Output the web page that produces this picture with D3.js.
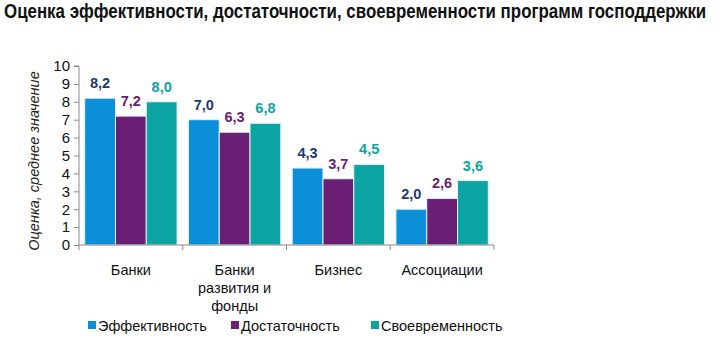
<!DOCTYPE html>
<html><head><meta charset="utf-8">
<script src="https://cdn.jsdelivr.net/npm/d3@7"></script>
<style>body{margin:0;background:#fff;} svg{display:block;font-family:"Liberation Sans",Arial,sans-serif;}</style>
</head><body>
<svg id="c" width="720" height="346"></svg>
<script>
const categories = [["Банки"], ["Банки", "развития и", "фонды"], ["Бизнес"], ["Ассоциации"]];
const seriesNames = ["Эффективность", "Достаточность", "Своевременность"];
const effectiveness = [8.2, 7.0, 4.3, 2.0];
const sufficiency = [7.2, 6.3, 3.7, 2.6];
const timeliness = [8.0, 6.8, 4.5, 3.6];
const yTicks = [0,1,2,3,4,5,6,7,8,9,10];
const colors = ["#0b8fd8", "#6a1e74", "#0ca4a2"];
const labelColors = ["#1b3a78", "#6a1e74", "#0ca4a2"];
const series = [effectiveness, sufficiency, timeliness];

const svg = d3.select("#c");
svg.append("text").attr("transform", "translate(4,18) scale(1,1.15)").attr("font-size", 16.9).attr("font-weight", "bold")
  .attr("font-family", "'Liberation Sans', Arial, sans-serif")
  .attr("fill", "#111").text("Оценка эффективности, достаточности, своевременности программ господдержки");

const x0 = d3.scaleBand().domain(d3.range(categories.length)).range([79, 494]).paddingInner(0.11).paddingOuter(0.055);
const x1 = d3.scaleBand().domain(d3.range(series.length)).range([0, x0.bandwidth()]);
const y = d3.scaleLinear().domain([0, 10]).range([245, 66]);

const g = svg.append("g");
// y axis
const ya = g.append("g").attr("transform", "translate(79,0)")
  .call(d3.axisLeft(y).tickValues(yTicks).tickSize(5).tickFormat(d3.format("d")));
ya.select(".domain").attr("stroke", "#8a8a8a").attr("d", `M-5,${y(10)}H0V${y(0)}`);
ya.selectAll(".tick line").attr("stroke", "#8a8a8a");
ya.selectAll(".tick text").attr("font-size", 15).attr("fill", "#111").attr("x", -9)
  .attr("font-family", "Liberation Sans, Arial, sans-serif");

svg.append("text").attr("transform", "translate(39,161) rotate(-90)").attr("text-anchor", "middle")
  .attr("font-size", 14.5).attr("font-style", "italic").attr("fill", "#222").text("Оценка, среднее значение");

// bars
series.forEach((s, si) => {
  g.selectAll(null).data(s).enter().append("rect")
    .attr("x", (d, i) => x0(i) + x1(si)).attr("width", x1.bandwidth())
    .attr("y", d => y(d)).attr("height", d => y(0) - y(d))
    .attr("fill", colors[si]).attr("stroke", "#dff3fb").attr("stroke-width", 1);
  g.selectAll(null).data(s).enter().append("text")
    .attr("x", (d, i) => x0(i) + x1(si) + x1.bandwidth() / 2)
    .attr("y", d => y(d) - 10).attr("text-anchor", "middle")
    .attr("font-size", 14.5).attr("font-weight", "bold").attr("fill", labelColors[si])
    .text(d => d3.format(".1f")(d).replace(".", ","));
});

// x axis
const boundaries = [79].concat(d3.range(categories.length).map(i => x0(i) + x0.bandwidth() + x0.step() * x0.paddingInner() / 2));
boundaries[boundaries.length - 1] = 494;
g.append("line").attr("x1", 79).attr("x2", 494).attr("y1", y(0)).attr("y2", y(0)).attr("stroke", "#8a8a8a");
boundaries.forEach(b => g.append("line").attr("x1", b).attr("x2", b).attr("y1", y(0)).attr("y2", y(0) + 5).attr("stroke", "#8a8a8a"));

categories.forEach((lines, i) => {
  const t = svg.append("text").attr("text-anchor", "middle").attr("font-size", 14.5).attr("fill", "#111");
  lines.forEach((ln, k) => t.append("tspan").attr("x", x0(i) + x0.bandwidth() / 2).attr("y", 275 + k * 18).text(ln));
});

// legend
const legX = [88, 231, 371];
seriesNames.forEach((n, i) => {
  svg.append("rect").attr("x", legX[i]).attr("y", 321).attr("width", 8).attr("height", 8).attr("fill", colors[i]);
  svg.append("text").attr("x", legX[i] + 10).attr("y", 331).attr("font-size", 14.5).attr("fill", "#111").text(n);
});
</script>
</body></html>
